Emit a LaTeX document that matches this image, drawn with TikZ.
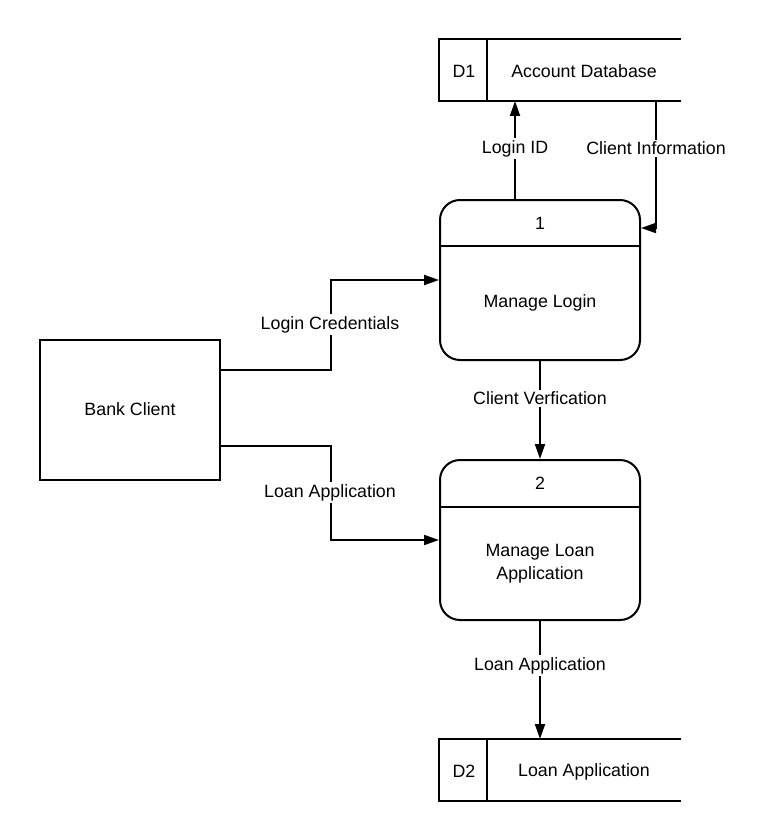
\documentclass[tikz,border=0pt]{standalone}
\usepackage{fontspec}
\setmainfont{Liberation Sans}
\usetikzlibrary{arrows.meta}
\begin{document}
\begin{tikzpicture}[x=1pt,y=-1pt,
  font=\fontsize{17.8}{23}\selectfont,
  every path/.style={line width=2pt},
  proc/.style={draw,rounded corners=20pt,minimum width=200pt,minimum height=160pt,inner sep=0pt},
  ent/.style={draw,minimum width=180pt,minimum height=140pt,inner sep=0pt},
  store/.style={minimum width=240pt,minimum height=60pt,inner sep=0pt},
  txt/.style={inner sep=0pt,align=center,yshift=-1.5pt},
  lbl/.style={fill=white,inner sep=2pt,align=center,yshift=-1.5pt},
  arr/.style={-{Triangle[width=10pt,length=15pt]}}]
\useasboundingbox (0,0) rectangle (766,840);
% stores
\node[store] (D1) at (560,70) {};
\draw (D1.north east) -- (D1.north west) -- (D1.south west) -- (D1.south east);
\draw ([xshift=48pt]D1.north west) -- ([xshift=48pt]D1.south west);
\node[txt] (d1id) at (464,70) {D1};
\node[txt] (d1n) at (584,70) {Account Database};
\node[store] (D2) at (560,770) {};
\draw (D2.north east) -- (D2.north west) -- (D2.south west) -- (D2.south east);
\draw ([xshift=48pt]D2.north west) -- ([xshift=48pt]D2.south west);
\node[txt] (d2id) at (464,770) {D2};
\node[txt] (d2n) at (584,770) {Loan Application};
% processes
\node[proc] (p1) at (540,280) {};
\draw ([yshift=-47pt]p1.north west) -- ([yshift=-47pt]p1.north east);
\node[txt] (p1id) at (540,222) {1};
\node[txt] (p1n) at (540,301) {Manage Login};
\node[proc] (p2) at (540,540) {};
\draw ([yshift=-48pt]p2.north west) -- ([yshift=-48pt]p2.north east);
\node[txt] (p2id) at (540,482) {2};
\node[txt] (p2n) at (540,562) {Manage Loan\\Application};
% entity
\node[ent] (bc) at (130,410) {};
\node[txt] (bcn) at (130,408) {Bank Client};
% flows
\draw[arr] ([xshift=-25pt]p1.north) -- ([xshift=-25pt]p1.north |- D1.south);
\node[lbl] (l1) at (515,147) {Login ID};
\draw[arr] ([xshift=96pt]D1.south) |- ([yshift=52pt]p1.east);
\node[lbl] (l2) at (656,147) {Client Information};
\draw[arr] ([yshift=40pt]bc.east) -- ++(110,0) |- (p1.west);
\node[lbl] (l3) at (330,323) {Login Credentials};
\draw[arr] ([yshift=-36pt]bc.east) -- ++(110,0) |- (p2.west);
\node[lbl] (l4) at (330,491) {Loan Application};
\draw[arr] (p1.south) -- (p2.north);
\node[lbl] (l5) at (540,397) {Client Verfication};
\draw[arr] (p2.south) -- (D2.north -| p2.south);
\node[lbl] (l6) at (540,664) {Loan Application};
\end{tikzpicture}
\end{document}
